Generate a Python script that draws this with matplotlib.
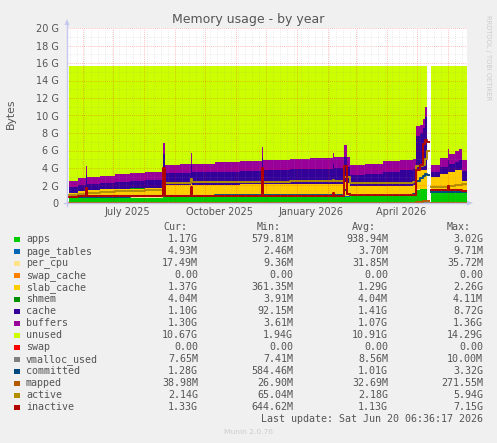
import numpy as np
import pandas as pd
import matplotlib
matplotlib.use("Agg")
import matplotlib.pyplot as plt
import matplotlib.dates as mdates
import matplotlib.ticker as mticker
from matplotlib.patches import Rectangle, Polygon

nan = np.nan

# ===== DATA (GiB) =====
dates = pd.to_datetime([
    "2025-05-18", "2025-05-27", "2025-06-04", "2025-06-05", "2025-06-18", "2025-07-03",
    "2025-07-18", "2025-08-02", "2025-08-20", "2025-08-22", "2025-09-06", "2025-09-17",
    "2025-09-18", "2025-10-11", "2025-11-05", "2025-11-27", "2025-11-28", "2025-12-25",
    "2026-01-14", "2026-02-06", "2026-02-07", "2026-02-17", "2026-02-20", "2026-02-23",
    "2026-03-10", "2026-03-28", "2026-04-14", "2026-04-27", "2026-04-30", "2026-05-04",
    "2026-05-07", "2026-05-09", "2026-05-11", "2026-05-13", "2026-05-15", "2026-05-24",
    "2026-06-01", "2026-06-02", "2026-06-08", "2026-06-12", "2026-06-15", "2026-06-20",
])

apps = [0.57, 0.57, 0.58, 0.58, 0.58, 0.59, 0.60, 0.62, 0.65, 0.65, 0.66, 0.66,
        0.67, 0.68, 0.70, 0.70, 0.71, 0.72, 0.72, 0.73, 0.73, 0.74, 0.74, 0.75,
        0.76, 0.78, 0.80, 0.85, 1.50, 1.55, 1.55, 1.60, 1.60, nan, 1.48, 1.48,
        1.50, 1.50, 1.48, 1.45, 1.17, 1.17]
page_tables = [0.003, 0.003, 0.004, 0.003, 0.003, 0.003, 0.003, 0.004, 0.005, 0.004, 0.004, 0.004,
               0.004, 0.004, 0.004, 0.005, 0.004, 0.004, 0.004, 0.004, 0.004, 0.005, 0.004, 0.003,
               0.003, 0.003, 0.004, 0.004, 0.009, 0.009, 0.009, 0.009, 0.009, nan, 0.004, 0.004,
               0.005, 0.005, 0.005, 0.005, 0.005, 0.005]
per_cpu = [0.033, 0.033, 0.033, 0.033, 0.034, 0.034, 0.034, 0.034, 0.035, 0.034, 0.034, 0.034,
           0.034, 0.034, 0.034, 0.035, 0.034, 0.034, 0.034, 0.034, 0.034, 0.035, 0.034, 0.034,
           0.034, 0.034, 0.034, 0.034, 0.035, 0.035, 0.035, 0.035, 0.035, nan, 0.009, 0.015,
           0.017, 0.017, 0.017, 0.017, 0.017, 0.017]
swap_cache = [0, 0, 0, 0, 0, 0, 0, 0, 0, 0, 0, 0, 0, 0, 0, 0, 0, 0, 0, 0, 0,
              0, 0, 0, 0, 0, 0, 0, 0, 0, 0, 0, 0, nan, 0, 0, 0, 0, 0, 0, 0, 0]
slab_cache = [0.55, 0.75, 0.82, 0.82, 0.96, 0.99, 1.02, 1.03, 1.32, 1.37, 1.36, 1.51,
              1.36, 1.39, 1.39, 1.57, 1.39, 1.39, 1.40, 1.44, 1.39, 1.63, 1.53, 1.14,
              1.14, 1.13, 1.12, 1.12, 2.26, 2.22, 2.22, 2.17, 2.17, nan, 1.49, 1.79,
              1.97, 2.07, 2.26, 2.26, 1.37, 1.37]
shmem = [0.004, 0.004, 0.004, 0.004, 0.004, 0.004, 0.004, 0.004, 0.004, 0.004, 0.004, 0.004,
         0.004, 0.004, 0.004, 0.004, 0.004, 0.004, 0.004, 0.004, 0.004, 0.004, 0.004, 0.004,
         0.004, 0.004, 0.004, 0.004, 0.004, 0.004, 0.004, 0.004, 0.004, nan, 0.004, 0.004,
         0.004, 0.004, 0.004, 0.004, 0.004, 0.004]
cache = [0.72, 0.75, 1.80, 0.75, 0.75, 0.80, 0.85, 0.90, 3.60, 1.35, 1.40, 2.30,
         1.44, 1.48, 1.54, 2.80, 1.62, 1.72, 1.78, 2.30, 1.82, 2.90, 1.75, 1.28,
         1.42, 1.64, 1.80, 1.86, 3.80, 4.20, 4.70, 6.00, 8.10, nan, 0.60, 0.80,
         1.40, 0.90, 0.97, 1.20, 1.10, 1.10]
buffers = [0.68, 0.75, 1.00, 0.77, 0.80, 0.90, 0.95, 1.00, 1.30, 0.88, 0.97, 1.20,
           1.00, 1.04, 1.10, 1.30, 1.13, 1.14, 1.19, 1.20, 1.23, 1.30, 1.25, 1.16,
           1.15, 1.16, 1.17, 1.19, 1.15, 0.90, 1.10, 1.20, 1.30, nan, 0.80, 1.00,
           1.30, 1.10, 1.20, 1.25, 1.30, 1.30]
unused = [13.08, 12.78, 11.40, 12.68, 12.51, 12.32, 12.18, 12.05, 8.73, 11.35, 11.21, 9.93,
          11.13, 11.01, 10.87, 9.23, 10.75, 10.63, 10.51, 9.93, 10.43, 9.03, 10.33, 11.27,
          11.13, 10.89, 10.71, 10.58, 6.89, 6.73, 6.03, 4.63, 2.43, nan, 11.25, 10.54,
          9.44, 10.04, 9.70, 9.45, 10.67, 10.67]
swap = [0, 0, 0, 0, 0, 0, 0, 0, 0, 0, 0, 0, 0, 0, 0, 0, 0, 0, 0, 0, 0,
        0, 0, 0, 0, 0, 0, 0, 0, 0, 0, 0, 0, nan, 0, 0, 0, 0, 0, 0, 0, 0]

vmalloc_used = [0.008, 0.008, 0.008, 0.008, 0.008, 0.008, 0.008, 0.008, 0.009, 0.008, 0.008, 0.008,
                0.008, 0.008, 0.008, 0.009, 0.008, 0.008, 0.008, 0.008, 0.008, 0.009, 0.008, 0.008,
                0.008, 0.008, 0.008, 0.008, 0.010, 0.010, 0.010, 0.010, 0.010, nan, 0.007, 0.007,
                0.008, 0.008, 0.008, 0.008, 0.007, 0.007]
committed = [0.65, 0.68, 0.90, 0.70, 0.72, 0.74, 0.76, 0.78, 1.50, 0.80, 0.82, 1.10,
             0.84, 0.86, 0.88, 1.40, 0.90, 0.92, 0.94, 1.00, 0.95, 1.50, 1.00, 0.90,
             0.92, 0.94, 0.96, 1.00, 2.50, 2.80, 3.10, 3.32, 3.20, nan, 1.20, 1.22,
             1.30, 1.25, 1.25, 1.28, 1.28, 1.28]
mapped = [0.027, 0.028, 0.030, 0.029, 0.030, 0.031, 0.031, 0.032, 0.035, 0.032, 0.032, 0.033,
          0.032, 0.032, 0.033, 0.035, 0.033, 0.033, 0.033, 0.033, 0.033, 0.036, 0.033, 0.032,
          0.032, 0.033, 0.033, 0.034, 0.12, 0.15, 0.20, 0.27, 0.25, nan, 0.036, 0.037,
          0.038, 0.038, 0.038, 0.039, 0.039, 0.039]
active = [0.95, 1.00, 1.30, 1.10, 1.30, 1.35, 1.40, 1.50, 2.00, 2.26, 2.30, 2.70,
          2.35, 2.38, 2.42, 2.70, 2.45, 2.48, 2.50, 2.65, 2.50, 3.00, 3.00, 2.26,
          2.28, 2.30, 2.32, 2.40, 4.20, 4.20, 4.30, 5.00, 5.94, nan, 1.85, 1.88,
          1.90, 1.95, 2.00, 2.05, 2.14, 2.14]
inactive = [0.72, 0.75, 1.70, 0.78, 0.80, 0.80, 0.82, 0.82, 4.00, 0.82, 0.82, 1.87,
            0.82, 0.83, 0.83, 4.00, 0.84, 0.84, 0.85, 1.10, 0.85, 4.20, 1.00, 0.90,
            0.92, 0.92, 0.93, 0.95, 3.80, 4.30, 6.80, 7.15, 7.00, nan, 1.50, 1.50,
            1.90, 1.50, 1.50, 1.45, 1.33, 1.33]

area_names = ["apps", "page_tables", "per_cpu", "swap_cache", "slab_cache", "shmem",
              "cache", "buffers", "unused", "swap"]
area_colors = ["#00CC00", "#0066B3", "#FFE38A", "#FF8000", "#FFCC00", "#008F00",
               "#330099", "#990099", "#CCFF00", "#FF0000"]
line_names = ["vmalloc_used", "committed", "mapped", "active", "inactive"]
line_colors = ["#808080", "#00487D", "#B35A00", "#B38F00", "#B30000"]

cur_txt = ["1.17G", "4.93M", "17.49M", "0.00", "1.37G", "4.04M", "1.10G", "1.30G",
           "10.67G", "0.00", "7.65M", "1.28G", "38.98M", "2.14G", "1.33G"]
min_txt = ["579.81M", "2.46M", "9.36M", "0.00", "361.35M", "3.91M", "92.15M", "3.61M",
           "1.94G", "0.00", "7.41M", "584.46M", "26.90M", "65.04M", "644.62M"]
avg_txt = ["938.94M", "3.70M", "31.85M", "0.00", "1.29G", "4.04M", "1.41G", "1.07G",
           "10.91G", "0.00", "8.56M", "1.01G", "32.69M", "2.18G", "1.13G"]
max_txt = ["3.02G", "9.71M", "35.72M", "0.00", "2.26G", "4.11M", "8.72G", "1.36G",
           "14.29G", "0.00", "10.00M", "3.32G", "271.55M", "5.94G", "7.15G"]

x_label_dates = pd.to_datetime(["2025-07-15", "2025-10-15", "2026-01-15", "2026-04-15"])
x_label_text = ["July 2025", "October 2025", "January 2026", "April 2026"]
y_ticks = [0, 2, 4, 6, 8, 10, 12, 14, 16, 18, 20]
y_tick_labels = ["0", "2 G", "4 G", "6 G", "8 G", "10 G", "12 G", "14 G", "16 G", "18 G", "20 G"]

# ===== FIGURE =====
W, H = 497, 443
TXT = "#555555"
fig = plt.figure(figsize=(W / 100, H / 100), dpi=100, facecolor="#F0F0F0")
ax = fig.add_axes([67 / W, (H - 203) / H, 400 / W, 175 / H])
ax.set_facecolor("white")

stack = np.vstack([apps, page_tables, per_cpu, swap_cache, slab_cache, shmem,
                   cache, buffers, unused, swap]).astype(float)
tops = np.cumsum(stack, axis=0)
bottoms = np.vstack([np.zeros(len(dates)), tops[:-1]])
for i, col in enumerate(area_colors):
    ax.fill_between(dates, bottoms[i], tops[i], step="post", color=col, lw=0)

for vals, col in zip([vmalloc_used, committed, mapped, active, inactive], line_colors):
    ax.step(dates, vals, where="post", color=col, lw=1.4)

ax.set_xlim(pd.Timestamp("2025-05-16"), pd.Timestamp("2026-06-20"))
ax.set_ylim(0, 20)

ax.xaxis.set_major_locator(mdates.MonthLocator())
ax.xaxis.set_minor_locator(mdates.WeekdayLocator(byweekday=mdates.MO))
ax.yaxis.set_major_locator(mticker.FixedLocator(y_ticks))
ax.yaxis.set_minor_locator(mticker.MultipleLocator(1))
ax.set_yticklabels(y_tick_labels)
ax.set_xticklabels([])
ax.set_axisbelow(False)
ax.grid(which="major", color="#FF0000", alpha=0.35, lw=0.6, ls=(0, (1, 1.5)))
ax.grid(which="minor", color="#999999", alpha=0.25, lw=0.6, ls=(0, (1, 1.5)))
ax.tick_params(which="both", length=0, labelsize=7, labelcolor=TXT, pad=5.8)
for s in ax.spines.values():
    s.set_visible(False)

for d, t in zip(x_label_dates, x_label_text):
    ax.text(d, -9 / 175, t, transform=ax.get_xaxis_transform(), ha="center", va="center",
            fontsize=7, color=TXT)

# overlay in pixel coordinates for axes arrows, titles and legend
ov = fig.add_axes([0, 0, 1, 1])
ov.set_xlim(0, W)
ov.set_ylim(H, 0)
ov.axis("off")
ov.patch.set_alpha(0)

axis_col = "#C4C8EE"
ov.plot([67, 67], [206, 24], color=axis_col, lw=1)
ov.add_patch(Polygon([(64.5, 25), (69.5, 25), (67, 19)], closed=True, color=axis_col, lw=0))
ov.plot([64, 467], [203, 203], color=axis_col, lw=1)
ov.add_patch(Polygon([(467, 200.5), (467, 205.5), (473, 203)], closed=True, color=axis_col, lw=0))

ov.text(248, 19, "Memory usage - by year", ha="center", va="center", fontsize=9, color=TXT)
ov.text(11, 114, "Bytes", rotation=90, ha="center", va="center", fontsize=7.8, color=TXT)
ov.text(488, 58, "RRDTOOL / TOBI OETIKER", rotation=270, ha="center", va="center",
        fontsize=4.8, color="#CCCCCC")

mono = dict(family="DejaVu Sans Mono", fontsize=7.2, color=TXT, va="center")
ov.text(163, 227.3, "Cur:", ha="left", **mono)
ov.text(257, 227.3, "Min:", ha="left", **mono)
ov.text(352, 227.3, "Avg:", ha="left", **mono)
ov.text(447, 227.3, "Max:", ha="left", **mono)

names = area_names + line_names
colors = area_colors + line_colors
for i, (nm, col) in enumerate(zip(names, colors)):
    y = 239.3 + 12 * i
    ov.add_patch(Rectangle((14, y - 2.8), 5.5, 5.5, color=col, lw=0))
    ov.text(26, y, nm, ha="left", **mono)
    ov.text(198, y, cur_txt[i], ha="right", **mono)
    ov.text(293, y, min_txt[i], ha="right", **mono)
    ov.text(388, y, avg_txt[i], ha="right", **mono)
    ov.text(483, y, max_txt[i], ha="right", **mono)

ov.text(483, 419.3, "Last update: Sat Jun 20 06:36:17 2026", ha="right", **mono)
ov.text(248, 432, "Munin 2.0.76", ha="center", va="center", fontsize=5.4, color="#CCCCCC")

fig.savefig("out.png", dpi=100, facecolor=fig.get_facecolor())
